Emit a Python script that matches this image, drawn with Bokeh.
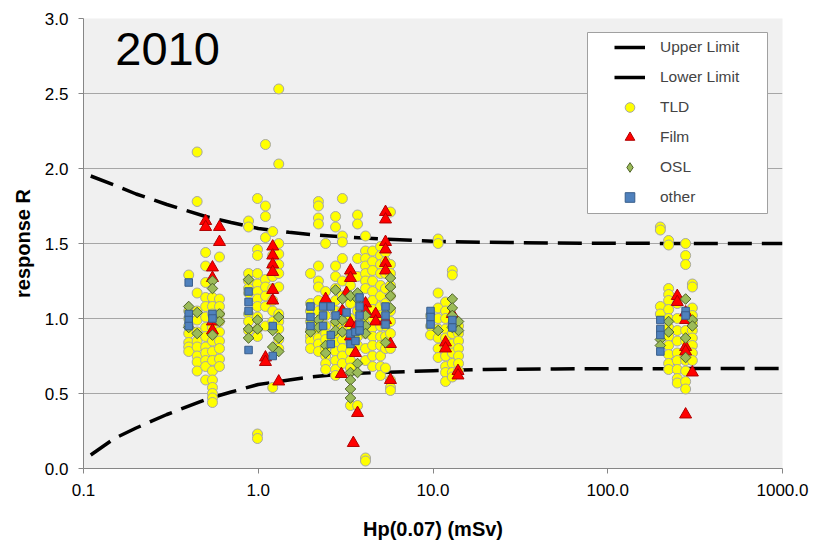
from bokeh.plotting import figure
from bokeh.models import (Range1d, FixedTicker, PrintfTickFormatter, Legend, LegendItem,
                          Label, BoxAnnotation)
from bokeh.embed import file_html
from bokeh.resources import INLINE

# ---------------- data ----------------
limit_x = [0.11, 0.15, 0.2, 0.3, 0.5, 0.7, 1, 1.5, 2, 3, 5, 10, 20, 50, 100, 300, 1000]
upper_y = [1.95, 1.89, 1.83, 1.76, 1.68, 1.64, 1.60, 1.575, 1.56, 1.545, 1.53, 1.515, 1.508, 1.503, 1.502, 1.50, 1.50]
lower_y = [0.09, 0.20, 0.27, 0.36, 0.46, 0.51, 0.56, 0.59, 0.61, 0.63, 0.64, 0.652, 0.66, 0.664, 0.665, 0.666, 0.667]

tld_x = [0.40, 0.447, 0.50, 0.547, 0.60,
         0.88, 0.99, 1.10, 1.21, 1.31,
         1.99, 2.21, 2.43, 2.77, 3.03, 3.37, 3.70, 4.11, 4.51, 5.01, 5.35, 5.71,
         9.68, 10.7, 11.8, 12.9, 14.0,
         200, 223, 250, 279, 305]
tld_y = [
    [1.29, 1.05, 1.00, 0.95, 0.90, 0.84, 0.81, 0.78],
    [2.11, 1.78, 1.17, 1.05, 0.99, 0.91, 0.85, 0.81, 0.75, 0.71, 0.65],
    [1.44, 1.35, 1.24, 1.14, 1.08, 1.01, 0.94, 0.88, 0.81, 0.77, 0.72, 0.68, 0.59],
    [1.14, 1.08, 1.03, 0.94, 0.85, 0.78, 0.72, 0.65, 0.59, 0.54, 0.50, 0.47, 0.44],
    [1.41, 1.13, 1.08, 1.03, 0.98, 0.91, 0.85, 0.80, 0.73, 0.68],
    [1.65, 1.61, 1.30, 1.25, 1.20, 1.17, 1.03, 0.98, 0.92],
    [1.80, 1.46, 1.42, 1.30, 1.23, 1.18, 1.13, 1.08, 1.01, 0.93, 0.88, 0.23, 0.20],
    [2.16, 1.75, 1.68, 1.54, 1.26, 1.21, 1.15, 1.08, 0.95],
    [1.58, 1.42, 1.35, 1.28, 1.20, 1.12, 1.05, 0.98, 0.54],
    [2.53, 2.03, 1.50, 1.43, 1.36, 1.30, 1.21, 1.03, 0.98, 0.93, 0.86, 0.80],
    [1.30, 1.10, 1.05, 0.98, 0.92, 0.88, 0.85, 0.80],
    [1.78, 1.75, 1.67, 1.63, 1.35, 1.25, 1.21, 1.12, 1.05, 0.98, 0.92, 0.87, 0.83, 0.78],
    [1.50, 1.18, 1.10, 1.02, 0.95, 0.90, 0.86, 0.80, 0.75, 0.70, 0.66],
    [1.68, 1.61, 1.35, 1.28, 1.20, 1.12, 1.05, 0.97, 0.90, 0.84, 0.78, 0.72, 0.66, 0.62],
    [1.80, 1.55, 1.51, 1.40, 1.25, 1.15, 1.05, 0.98, 0.92, 0.86, 0.80, 0.75, 0.70],
    [1.30, 1.22, 1.10, 1.00, 0.92, 0.85, 0.78, 0.72, 0.67, 0.42],
    [1.69, 1.63, 1.40, 1.28, 1.15, 1.05, 0.95, 0.88, 0.82, 0.42],
    [1.55, 1.45, 1.40, 1.35, 1.30, 1.25, 1.20, 1.10, 1.00, 0.90, 0.80, 0.72, 0.07, 0.05],
    [1.45, 1.38, 1.32, 1.25, 1.18, 1.12, 1.06, 1.00, 0.94, 0.88, 0.82, 0.75, 0.68],
    [1.48, 1.42, 1.36, 1.30, 1.22, 1.15, 1.08, 1.02, 0.95, 0.88, 0.82, 0.75, 0.68, 0.62],
    [1.44, 1.38, 1.30, 1.20, 1.10, 1.02, 0.95, 0.88, 0.80, 0.67],
    [1.71, 1.36, 1.30, 1.22, 1.15, 1.05, 0.98, 0.90, 0.80, 0.59, 0.54, 0.52],
    [1.02, 0.95, 0.89],
    [1.53, 1.50, 1.17, 1.07, 1.00, 0.93, 0.87, 0.80, 0.74],
    [1.11, 1.05, 1.00, 0.93, 0.87, 0.81, 0.75, 0.68, 0.64, 0.58],
    [1.32, 1.29, 0.96, 0.90, 0.83, 0.77, 0.70, 0.64, 0.61],
    [0.95, 0.90, 0.85, 0.80, 0.75, 0.70, 0.65],
    [1.61, 1.59, 1.08, 1.03],
    [1.52, 1.49, 1.20, 1.16, 1.12, 1.06, 1.00, 0.94, 0.88, 0.82, 0.76, 0.70, 0.66],
    [1.10, 1.00, 0.92, 0.85, 0.77, 0.72, 0.66, 0.60, 0.57],
    [1.50, 1.42, 1.36, 0.92, 0.85, 0.72, 0.65, 0.58, 0.53],
    [1.23, 1.21, 1.07, 1.02, 0.97, 0.92, 0.87, 0.82, 0.77, 0.72],
]

film_x = [0.50, 0.547, 0.60, 1.10, 1.21, 1.31, 2.43, 2.99, 3.03, 3.2, 3.37, 3.5, 3.6, 3.7,
          4.11, 4.7, 5.35, 5.71, 11.8, 12.9, 13.9, 250, 279, 305]
film_y = [
    [1.65, 1.61], [1.34, 1.27, 0.98, 0.92], [1.61, 1.51], [0.74, 0.71],
    [1.48, 1.42, 1.36, 1.31, 1.19, 1.12], [0.58], [1.13], [0.63], [1.05], [1.17],
    [1.32, 1.27, 0.97, 0.88], [0.17], [0.94, 0.77], [0.37],
    [1.10, 1.05], [1.03, 0.98], [1.71, 1.66, 1.51, 1.46, 1.37, 1.32, 0.99], [0.83, 0.59],
    [0.84, 0.80], [1.03], [0.65, 0.62], [1.15, 1.11], [1.04, 0.99, 0.81, 0.78, 0.36], [0.64],
]

osl_x = [0.40, 0.447, 0.547, 0.60, 0.88, 0.99, 1.21, 1.31, 1.99, 2.21, 2.43, 2.77, 3.03,
         3.37, 3.70, 4.11, 5.35, 5.71, 10.7, 12.9, 14.0, 200, 223, 279, 305]
osl_y = [
    [1.08, 0.94], [1.04, 0.90], [1.25, 1.20, 0.89], [1.03, 0.98], [1.26, 0.93, 0.87],
    [0.99, 0.93], [0.92, 0.81], [1.01, 0.87, 0.78], [0.91], [0.99, 0.94], [0.82, 0.77],
    [1.19, 0.98, 0.92], [1.13, 0.99, 0.91], [1.15, 0.64, 0.59, 0.53, 0.47],
    [1.17, 1.13, 0.70, 0.64], [1.02, 0.95, 0.90], [0.84], [1.27, 1.21, 1.15, 1.07],
    [0.92], [1.13, 1.07, 1.02, 0.94], [0.98, 0.92], [0.86, 0.82], [0.98, 0.91],
    [1.13, 0.87, 0.74], [0.99, 0.95],
]

other_x = [0.40, 0.547, 0.88, 1.21, 1.99, 2.35, 2.6, 2.77, 3.2, 3.37, 3.6, 3.8, 5.35,
           9.68, 12.9, 200, 279]
other_y = [
    [1.24, 1.03, 0.99, 0.95], [1.03, 1.00], [1.18, 1.11, 1.05, 0.79], [0.95, 0.75],
    [1.08, 1.01, 0.95], [1.08, 1.02, 0.95], [1.08, 0.89, 0.83], [1.02], [1.04],
    [0.90, 0.83], [0.91, 0.85], [1.14, 1.08, 1.02, 0.96, 0.92], [1.08, 1.02, 0.96],
    [1.05, 1.01, 0.96], [0.99, 0.94], [0.99, 0.93, 0.89, 0.78], [1.05, 1.02],
]

x_ticks = [0.1, 1, 10, 100, 1000]
y_ticks = [0.0, 0.5, 1.0, 1.5, 2.0, 2.5, 3.0]
year_text = "2010"


def flatten(xs, ys):
    fx, fy = [], []
    for x, col in zip(xs, ys):
        for y in col:
            fx.append(x)
            fy.append(y)
    return fx, fy


FONT = "Liberation Sans"
NAN = float("nan")

p = figure(width=815, height=549, x_axis_type="log",
           x_range=Range1d(0.1, 1000), y_range=Range1d(0, 3),
           output_backend="svg", toolbar_location=None,
           min_border_left=83, min_border_right=33,
           min_border_top=18, min_border_bottom=81)

p.background_fill_color = "#f0f0f0"
p.border_fill_color = "white"
p.outline_line_color = None

p.xgrid.grid_line_color = None
p.ygrid.grid_line_color = "#a6a6a6"
p.ygrid.grid_line_width = 1
p.ygrid.ticker = FixedTicker(ticks=y_ticks)

p.xaxis.ticker = FixedTicker(ticks=x_ticks, minor_ticks=[])
p.xaxis.formatter = PrintfTickFormatter(format="%.1f")
p.yaxis.ticker = FixedTicker(ticks=y_ticks, minor_ticks=[])
p.yaxis.formatter = PrintfTickFormatter(format="%.1f")

for ax in (p.xaxis, p.yaxis):
    ax.axis_line_color = "#868686"
    ax.major_tick_line_color = "#868686"
    ax.major_tick_out = 5
    ax.major_tick_in = 0
    ax.minor_tick_line_color = None
    ax.major_label_text_font = FONT
    ax.major_label_text_font_size = "17px"
    ax.major_label_text_color = "black"
    ax.axis_label_text_font = FONT
    ax.axis_label_text_font_size = "20px"
    ax.axis_label_text_font_style = "bold"
    ax.axis_label_text_color = "black"

p.xaxis.axis_label = "Hp(0.07) (mSv)"
p.yaxis.axis_label = "response R"
p.xaxis.major_label_standoff = 10
p.yaxis.major_label_standoff = 10
p.xaxis.axis_label_standoff = 19
p.yaxis.axis_label_standoff = 8

# limit lines
r_up = p.line(limit_x, upper_y, line_color="black", line_width=3.5, line_dash="24 10")
r_lo = p.line(limit_x, lower_y, line_color="black", line_width=3.5, line_dash="24 10")

tx, ty = flatten(tld_x, tld_y)
r_tld = p.scatter(tx, ty, marker="circle", size=10, fill_color="#ffff00",
                  line_color="#a6a6a6", line_width=1)
fx, fy = flatten(film_x, film_y)
r_film = p.scatter(fx, fy, marker="triangle", size=12, fill_color="#ff0000",
                   line_color="#b00000", line_width=1)
ox, oy = flatten(osl_x, osl_y)
r_osl = p.scatter(ox, oy, marker="square", angle=0.785398, size=7.5, fill_color="#9bbb59",
                  line_color="#4f6228", line_width=1)
qx, qy = flatten(other_x, other_y)
r_oth = p.scatter(qx, qy, marker="square", size=7.5, fill_color="#4f81bd",
                  line_color="#385d8a", line_width=1)

# legend-only glyph samples (a single NaN point: nothing drawn in the plot)
leg_up = p.line([NAN], [NAN], line_color="black", line_width=3.5)
leg_lo = p.line([NAN], [NAN], line_color="black", line_width=3.5)
leg_osl = p.scatter([NAN], [NAN], marker="diamond", size=12.5, fill_color="#9bbb59",
                    line_color="#4f6228", line_width=1)

# legend frame (white box with grey border), placed relative to the plot frame
legend_box = BoxAnnotation(left=504, right=684, top=436, bottom=255,
                           left_units="screen", right_units="screen",
                           top_units="screen", bottom_units="screen",
                           fill_color="white", fill_alpha=1,
                           line_color="#a0a0a0", line_width=1, line_alpha=1)
p.add_layout(legend_box)

legend = Legend(items=[
    LegendItem(label="Upper Limit", renderers=[leg_up]),
    LegendItem(label="Lower Limit", renderers=[leg_lo]),
    LegendItem(label="TLD", renderers=[r_tld]),
    LegendItem(label="Film", renderers=[r_film]),
    LegendItem(label="OSL", renderers=[leg_osl]),
    LegendItem(label="other", renderers=[r_oth]),
])
legend.location = "top_right"
legend.margin = 14
legend.padding = 3
legend.spacing = 6
legend.glyph_width = 31
legend.glyph_height = 24
legend.label_height = 24
legend.label_width = 105
legend.label_standoff = 15
legend.label_text_font = FONT
legend.label_text_font_size = "15.5px"
legend.background_fill_alpha = 0
legend.border_line_alpha = 0
p.add_layout(legend)

year = Label(x=0.152, y=2.80, text=year_text, text_font=FONT, text_font_size="47px",
             text_color="black", text_baseline="alphabetic")
p.add_layout(year)

open("out.html", "w").write(file_html(p, INLINE))
